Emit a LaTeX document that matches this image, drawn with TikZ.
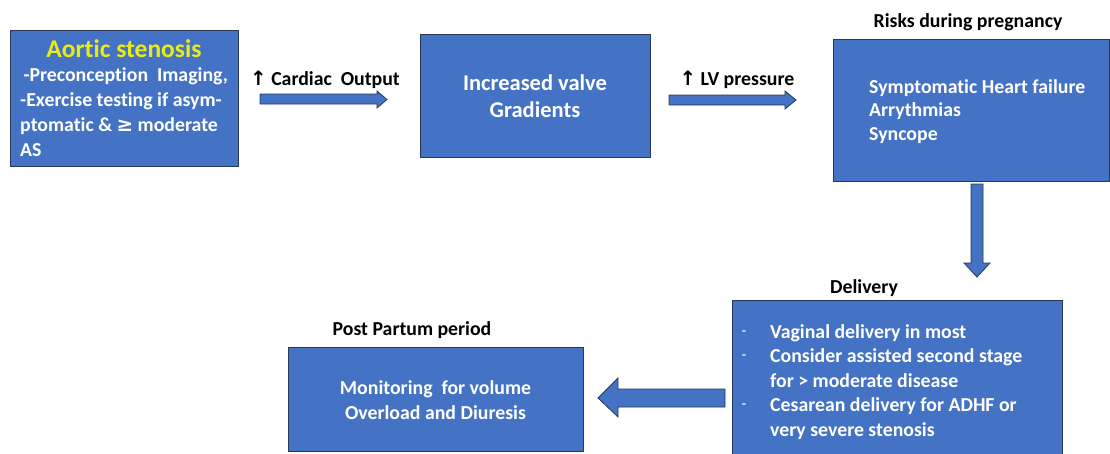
\documentclass[tikz,border=0pt]{standalone}
\usepackage{fontspec}
\setmainfont{Carlito}[Ligatures=NoCommon]
\newfontfamily\symfont{DejaVu Sans}
\definecolor{boxblue}{RGB}{68,114,196}
\definecolor{boxedge}{RGB}{40,55,90}
\definecolor{titleyellow}{RGB}{235,235,20}
\tikzset{
  bluebox/.style={draw=boxedge, line width=1pt, fill=boxblue, inner sep=0pt},
  boxtext/.style={text=white, font=\bfseries\fontsize{19.8}{24.5}\selectfont, inner sep=0pt},
  lbl/.style={text=black, font=\bfseries\fontsize{19.8}{22}\selectfont, inner sep=0pt},
  blockarrow/.style={draw=boxedge, line width=0.8pt, fill=boxblue, line join=miter}
}
\begin{document}
\begin{tikzpicture}[x=1pt,y=-1pt]
\useasboundingbox (0,0) rectangle (1110,453);
% boxes
\node[bluebox, minimum width=228, minimum height=136] (b1) at (124,98) {};
\node[bluebox, minimum width=230, minimum height=123] (b2) at (535,95.5) {};
\node[bluebox, minimum width=276, minimum height=142] (b3) at (971,110) {};
\node[bluebox, minimum width=330, minimum height=160] (b4) at (897,380) {};
\node[bluebox, minimum width=295, minimum height=104] (b5) at (435.5,399) {};
% box 1 text
\node[text=titleyellow, font=\bfseries\fontsize{25.5}{28}\selectfont, inner sep=0pt] (t1) at (124,49) {Aortic stenosis};
\node[boxtext, anchor=north west, align=left, font=\bfseries\fontsize{19.8}{25}\selectfont] (t1b) at (20,67) {\,-Preconception\ \ Imaging,\\-Exercise testing if asym-\\ptomatic \& {\symfont ≥} moderate\\AS};
% box 2 text
\node[boxtext, align=center, font=\bfseries\fontsize{22.5}{27}\selectfont] (t2) at (535,96) {Increased valve\\Gradients};
% box 3 text
\node[boxtext, anchor=north west, align=left, font=\bfseries\fontsize{19.8}{23.5}\selectfont] (t3) at (869,79) {Symptomatic Heart failure\\Arrythmias\\Syncope};
% box 4 text
\node[boxtext, anchor=north west, align=left] (t4) at (770,324) {Vaginal delivery in most\\Consider assisted second stage\\for > moderate disease\\Cesarean delivery for ADHF or\\very severe stenosis};
\node[text=white!85!boxblue, font=\bfseries\fontsize{14}{14}\selectfont, inner sep=0pt] (d1) at (744,333) {-};
\node[text=white!85!boxblue, font=\bfseries\fontsize{14}{14}\selectfont, inner sep=0pt] (d2) at (744,357) {-};
\node[text=white!85!boxblue, font=\bfseries\fontsize{14}{14}\selectfont, inner sep=0pt] (d3) at (744,406) {-};
% box 5 text
\node[boxtext, align=center] (t5) at (435.5,400) {Monitoring\ \ for volume\\Overload and Diuresis};
% labels
\node[lbl] (l1) at (325,80) {{\symfont ↑} Cardiac\ \ Output};
\node[lbl] (l2) at (737,80) {{\symfont ↑} LV pressure};
\node[lbl] (l3) at (968,22) {Risks during pregnancy};
\node[lbl] (l4) at (864,288) {Delivery};
\node[lbl] (l5) at (412,330) {Post Partum period};
% block arrows
\draw[blockarrow] (260,94) -- (377,94) -- (377,91) -- (387,99.5) -- (377,108) -- (377,104) -- (260,104) -- cycle;
\draw[blockarrow] (669,95) -- (785,95) -- (785,91) -- (796,100) -- (785,109) -- (785,105) -- (669,105) -- cycle;
\draw[blockarrow] (971,184) -- (983,184) -- (983,263) -- (990,263) -- (977,277) -- (964,263) -- (971,263) -- cycle;
\draw[blockarrow] (725,389) -- (618,389) -- (618,378) -- (598,398) -- (618,417) -- (618,407) -- (725,407) -- cycle;
\end{tikzpicture}
\end{document}
